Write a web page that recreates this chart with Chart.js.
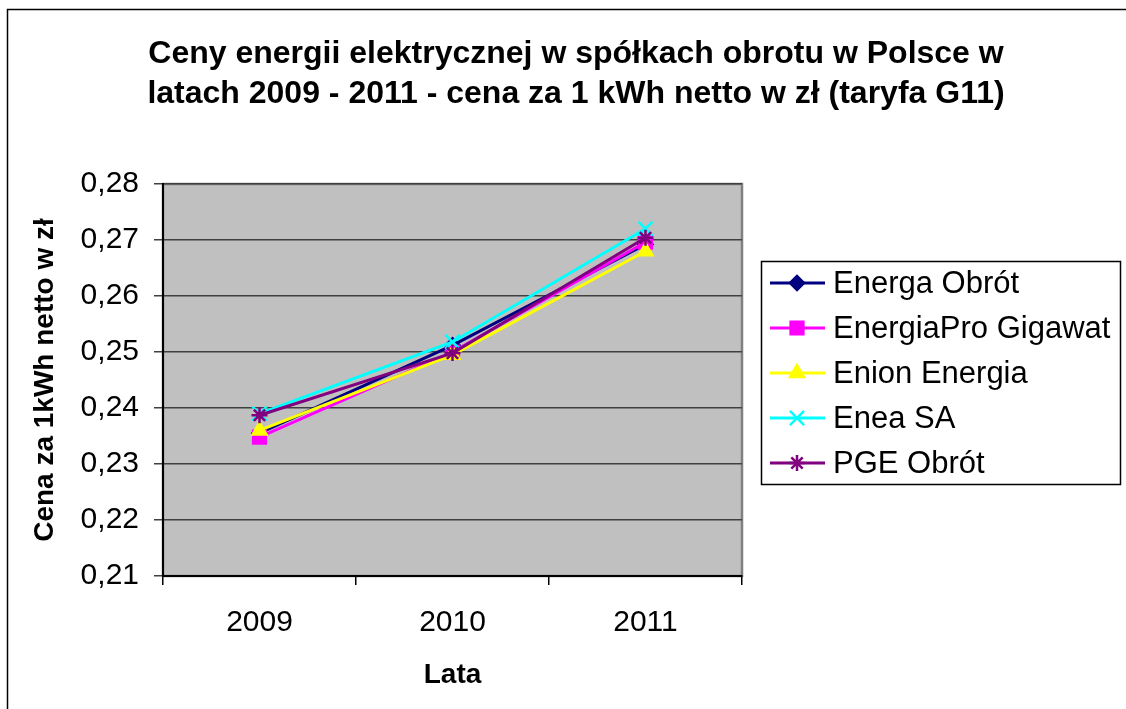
<!DOCTYPE html>
<html lang="pl">
<head>
<meta charset="UTF-8">
<title>Ceny energii elektrycznej</title>
<script src="https://cdn.jsdelivr.net/npm/chart.js"></script>
<style>
  html, body { margin: 0; padding: 0; background: #fff; }
  #wrap { width: 1126px; height: 709px; }
</style>
</head>
<body>
<div id="wrap"><canvas id="myChart" width="1126" height="709"></canvas></div>
<script>
// dane
const years = ['2009', '2010', '2011'];
const seriesNames = ['Energa Obrót', 'EnergiaPro Gigawat', 'Enion Energia', 'Enea SA', 'PGE Obrót'];
const energa = [0.2355, 0.2512, 0.2692];
const energiaPro = [0.2348, 0.2500, 0.2696];
const enion = [0.2360, 0.2495, 0.2680];
const enea = [0.2390, 0.2518, 0.2720];
const pge = [0.2387, 0.2498, 0.2704];
const yTicks = [0.21, 0.22, 0.23, 0.24, 0.25, 0.26, 0.27, 0.28];

const titleLines = ['Ceny energii elektrycznej w spółkach obrotu w Polsce w',
                    'latach 2009 - 2011 - cena za 1 kWh netto w zł (taryfa G11)'];

const colors = ['#000080', '#FF00FF', '#FFFF00', '#00FFFF', '#800080'];
const markers = ['rectRot', 'rect', 'triangle', 'crossRot', 'star'];
const markerSize = [7, 9, 8, 10, 8];
const allValues = [energa, energiaPro, enion, enea, pge];

const FONT = 'Arial, "Liberation Sans", sans-serif';

// tlo i ramka wykresu, tytul, legenda
const frame = {
    id: 'frame',
    beforeDraw(chart) {
        const ctx = chart.ctx, a = chart.chartArea;
        ctx.save();
        ctx.strokeStyle = '#000';
        ctx.lineWidth = 1.5;
        ctx.strokeRect(7.5, 9.5, 1130, 710);
        ctx.fillStyle = '#c0c0c0';
        ctx.fillRect(a.left, a.top, a.right - a.left, a.bottom - a.top);
        ctx.strokeStyle = '#808080';
        ctx.lineWidth = 2.5;
        ctx.strokeRect(a.left, a.top, a.right - a.left, a.bottom - a.top);
        ctx.restore();
    },
    afterDraw(chart) {
        const ctx = chart.ctx;
        ctx.save();
        ctx.fillStyle = '#000';
        ctx.font = 'bold 32px ' + FONT;
        ctx.textAlign = 'center';
        ctx.textBaseline = 'middle';
        ctx.fillText(titleLines[0], 576, 54);
        ctx.fillText(titleLines[1], 576, 94);

        // legenda
        ctx.strokeStyle = '#000';
        ctx.lineWidth = 1.5;
        ctx.strokeRect(761.5, 261.5, 359, 223);
        ctx.font = '31px ' + FONT;
        ctx.textAlign = 'left';
        seriesNames.forEach((name, i) => {
            const y = 283 + i * 45;
            ctx.strokeStyle = colors[i];
            ctx.lineWidth = 3;
            ctx.beginPath();
            ctx.moveTo(770, y);
            ctx.lineTo(825, y);
            ctx.stroke();
            ctx.fillStyle = colors[i];
            ctx.lineWidth = 2.5;
            Chart.helpers.drawPoint(ctx, {pointStyle: markers[i], radius: markerSize[i], rotation: 0, borderWidth: 2.5}, 797, y);
            ctx.fillStyle = '#000';
            ctx.fillText(name, 833, y + 1);
        });
        ctx.restore();
    }
};

const datasets = seriesNames.map((name, i) => ({
    label: name,
    data: allValues[i],
    borderColor: colors[i],
    backgroundColor: colors[i],
    borderWidth: 3,
    pointStyle: markers[i],
    pointRadius: markerSize[i],
    pointBorderWidth: 2.5,
    pointBackgroundColor: colors[i],
    pointBorderColor: colors[i],
    tension: 0,
    order: seriesNames.length - i
}));

new Chart(document.getElementById('myChart'), {
    type: 'line',
    data: { labels: years, datasets: datasets },
    options: {
        responsive: false,
        animation: false,
        events: [],
        layout: { padding: { top: 184, right: 384, bottom: 0, left: 0 } },
        plugins: {
            legend: { display: false },
            title: { display: false },
            tooltip: { enabled: false }
        },
        scales: {
            x: {
                offset: true,
                afterFit: s => { s.height = 133; },
                grid: { offset: true, drawOnChartArea: false, color: '#000', tickLength: 9, lineWidth: 1.5 },
                border: { color: '#000', width: 2 },
                ticks: { color: '#000', font: { size: 30, family: FONT }, padding: 20, maxRotation: 0 },
                title: {
                    display: true, text: 'Lata', color: '#000',
                    font: { size: 28, weight: 'bold', family: FONT },
                    padding: { top: 0, bottom: 17 }
                }
            },
            y: {
                min: 0.21,
                max: 0.28,
                afterFit: s => { s.width = 163; },
                afterBuildTicks: s => { s.ticks = yTicks.map(v => ({ value: v })); },
                grid: { color: '#404040', lineWidth: 1.5, tickLength: 9 },
                border: { color: '#000', width: 2 },
                ticks: {
                    color: '#000', font: { size: 30, family: FONT }, padding: 15,
                    callback: v => v.toFixed(2).replace('.', ',')
                },
                title: {
                    display: true, text: 'Cena za 1kWh netto w zł', color: '#000',
                    font: { size: 28, weight: 'bold', family: FONT },
                    padding: { top: 28, bottom: 0 }
                }
            }
        }
    },
    plugins: [frame]
});
</script>
</body>
</html>
